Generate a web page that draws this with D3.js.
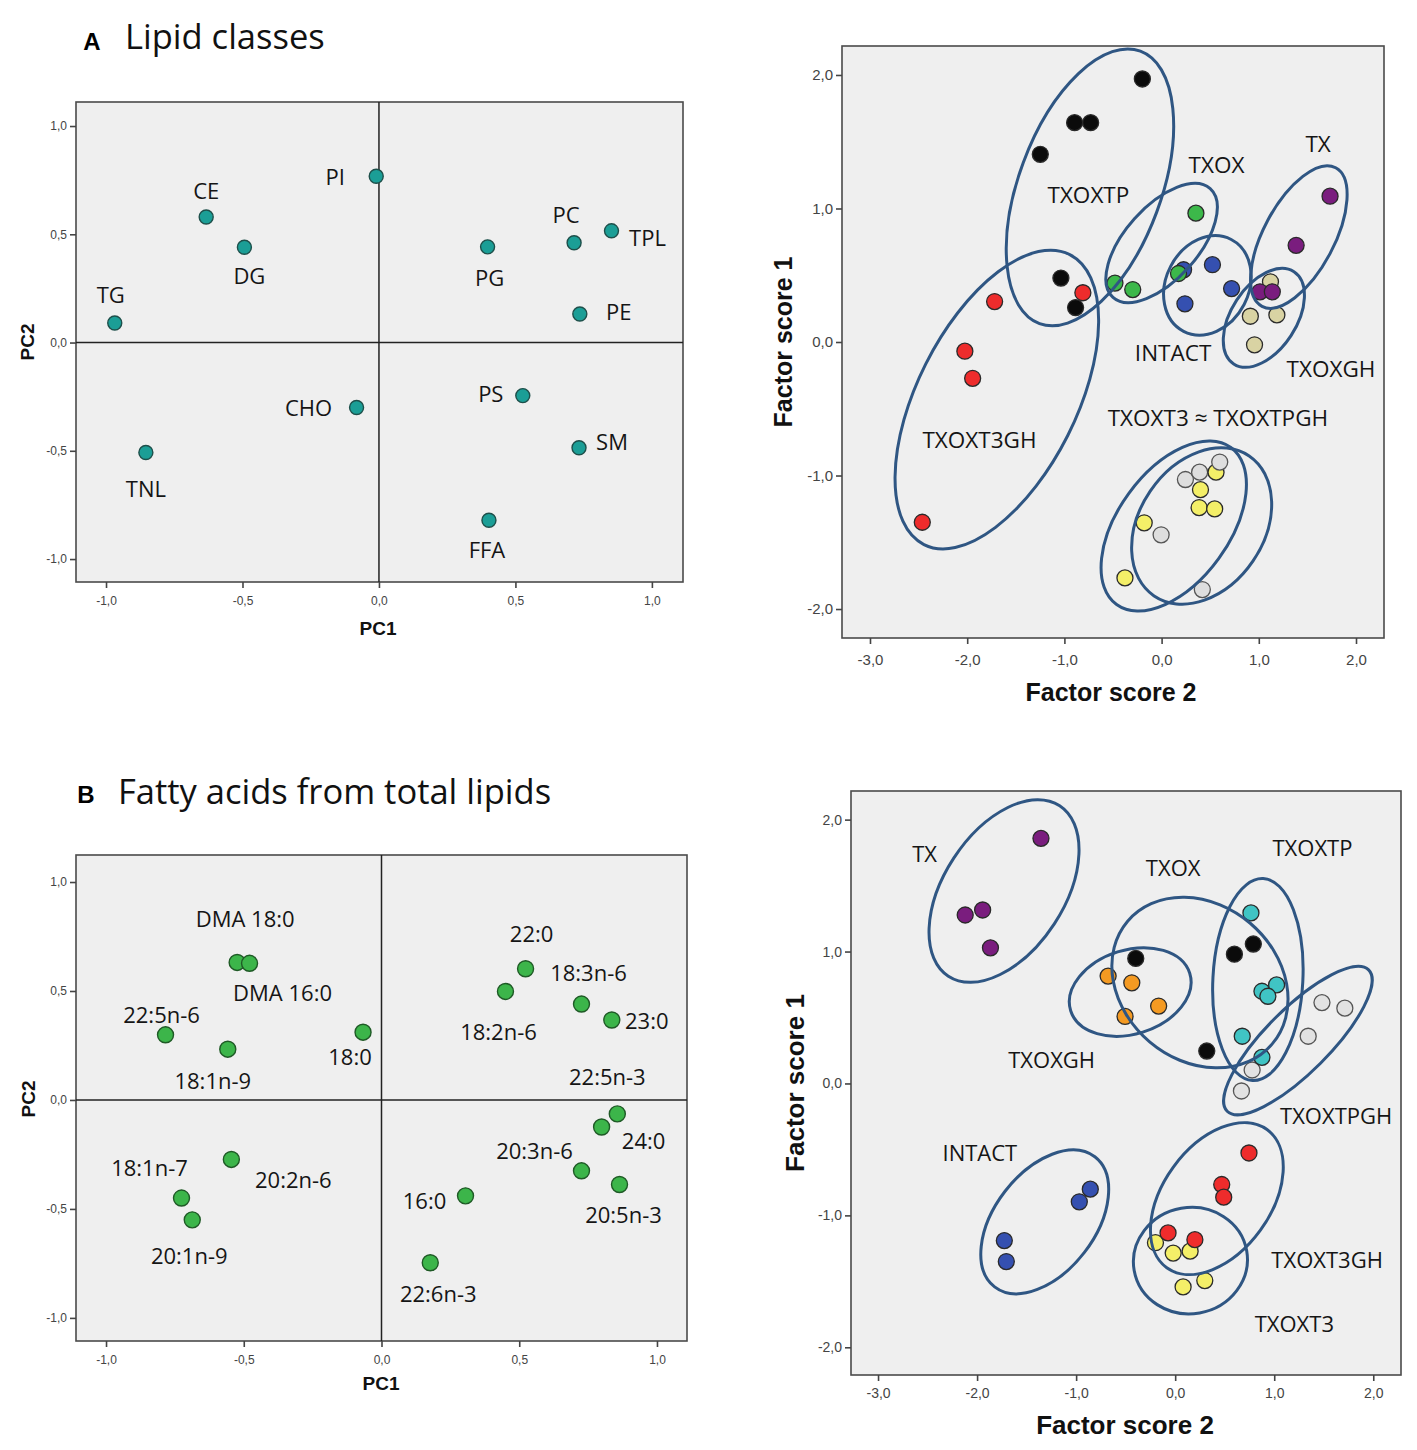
<!DOCTYPE html>
<html>
<head>
<meta charset="utf-8">
<script src="https://cdn.jsdelivr.net/npm/d3@7"></script>
<style>
  body { margin: 0; background: #fff; }
  text { font-family: "Open Sans", sans-serif; }
  .tick text { font-family: "Liberation Sans", Arial, sans-serif; fill: #444; }
  .axis-title { font-family: "Liberation Sans", Arial, sans-serif; font-weight: bold; fill: #111; }
</style>
</head>
<body>
<svg width="1417" height="1450"></svg>
<script>
// ---- A: lipid classes, loadings ----
const lipidNames = ["PI", "CE", "DG", "TG", "PG", "PC", "TPL", "PE", "CHO", "PS", "SM", "TNL", "FFA"];
const lipidPC1 = [-0.01, -0.633, -0.493, -0.968, 0.398, 0.715, 0.852, 0.736, -0.082, 0.527, 0.733, -0.854, 0.403];
const lipidPC2 = [0.768, 0.58, 0.44, 0.09, 0.442, 0.461, 0.516, 0.132, -0.30, -0.245, -0.486, -0.508, -0.821];

// ---- A: factor scores per group [group, factor score 2, factor score 1] ----
const lipidScores = [
  ["INTACT", 0.226, 0.541], ["INTACT", 0.523, 0.579], ["INTACT", 0.72, 0.40], ["INTACT", 0.24, 0.286],
  ["TXOXTP", -0.198, 1.97], ["TXOXTP", -0.895, 1.643], ["TXOXTP", -0.73, 1.643], ["TXOXTP", -1.248, 1.406],
  ["TXOXTP", -1.036, 0.479], ["TXOXTP", -0.885, 0.258],
  ["TXOXT3GH", -0.81, 0.369], ["TXOXT3GH", -1.718, 0.303], ["TXOXT3GH", -2.024, -0.069],
  ["TXOXT3GH", -1.944, -0.272], ["TXOXT3GH", -2.462, -1.35],
  ["TXOX", 0.353, 0.965], ["TXOX", -0.48, 0.441], ["TXOX", -0.297, 0.393], ["TXOX", 0.174, 0.513],
  ["TXOXGH", 1.12, 0.451], ["TXOXGH", 0.913, 0.193], ["TXOXGH", 1.186, 0.203], ["TXOXGH", 0.956, -0.021],
  ["TX", 1.733, 1.092], ["TX", 1.384, 0.724], ["TX", 1.012, 0.376], ["TX", 1.139, 0.376],
  ["TXOXTPGH", 0.245, -1.03], ["TXOXTPGH", 0.391, -0.975], ["TXOXTPGH", -0.005, -1.444], ["TXOXTPGH", 0.419, -1.854],
  ["TXOXT3", 0.56, -0.975], ["TXOXT3", 0.40, -1.106], ["TXOXT3", 0.386, -1.24], ["TXOXT3", 0.546, -1.25],
  ["TXOXT3", -0.179, -1.354], ["TXOXT3", -0.377, -1.767],
  ["TXOXTPGH", 0.598, -0.899]
];
// ellipses: [centre fs2, centre fs1, major tip fs2, major tip fs1, minor/major]
const lipidEllipses = [
  [-0.737, 1.158, -0.218, 2.178, 0.49],
  [-1.695, -0.431, -0.945, 0.655, 0.49],
  [0, 0.741, 0.5, 1.148, 0.5],
  [0.471, 0.424, 0.716, 0.768, 0.8],
  [1.412, 0.786, 1.791, 1.305, 0.45],
  [1.052, 0.181, 1.362, 0.526, 0.59],
  [0.125, -1.378, 0.713, -0.79, 0.572],
  [0.412, -1.378, 0.901, -0.854, 0.735]
];
const lipidGroupLabels = [
  ["TXOXTP", -0.753, 1.102], ["TXOX", 0.565, 1.326], ["TX", 1.61, 1.488], ["INTACT", 0.118, -0.079],
  ["TXOXGH", 1.742, -0.2], ["TXOXT3 \u2248 TXOXTPGH", 0.579, -0.568], ["TXOXT3GH", -1.874, -0.734]
];

// ---- B: fatty acids, loadings ----
const faNames = ["DMA 18:0", "DMA 16:0", "22:5n-6", "18:1n-9", "18:0", "22:0", "18:2n-6", "18:3n-6", "23:0",
  "22:5n-3", "24:0", "20:3n-6", "20:5n-3", "16:0", "22:6n-3", "20:2n-6", "18:1n-7", "20:1n-9"];
const faPC1 = [-0.524, -0.479, -0.784, -0.558, -0.067, 0.523, 0.45, 0.726, 0.836,
  0.856, 0.799, 0.726, 0.864, 0.305, 0.177, -0.545, -0.726, -0.687];
const faPC2 = [0.631, 0.627, 0.299, 0.233, 0.311, 0.602, 0.498, 0.44, 0.367,
  -0.064, -0.124, -0.325, -0.388, -0.44, -0.747, -0.273, -0.45, -0.55];

// ---- B: factor scores ----
const faScores = [
  ["TX", -1.355, 1.858], ["TX", -2.12, 1.277], ["TX", -1.944, 1.315], ["TX", -1.865, 1.028],
  ["TXOX", -0.398, 0.948], ["TXOX", 0.598, 0.98], ["TXOX", 0.789, 1.057], ["TXOX", 0.319, 0.246],
  ["TXOXGH", -0.677, 0.814], ["TXOXGH", -0.438, 0.763], ["TXOXGH", -0.167, 0.587], ["TXOXGH", -0.506, 0.508],
  ["TXOXTPGH", 1.482, 0.613], ["TXOXTPGH", 1.713, 0.571], ["TXOXTPGH", 1.343, 0.358],
  ["TXOXTPGH", 0.777, 0.102], ["TXOXTPGH", 0.669, -0.057],
  ["TXOXTP", 0.765, 1.293], ["TXOXTP", 0.876, 0.699], ["TXOXTP", 1.024, 0.747], ["TXOXTP", 0.936, 0.661],
  ["TXOXTP", 0.677, 0.358], ["TXOXTP", 0.876, 0.198],
  ["TXOXT3", -0.199, -1.207], ["TXOXT3", -0.02, -1.286], ["TXOXT3", 0.151, -1.271],
  ["TXOXT3", 0.08, -1.542], ["TXOXT3", 0.299, -1.494],
  ["TXOXT3GH", 0.745, -0.527], ["TXOXT3GH", 0.47, -0.766], ["TXOXT3GH", 0.49, -0.862],
  ["TXOXT3GH", -0.072, -1.133], ["TXOXT3GH", 0.199, -1.184],
  ["INTACT", -0.857, -0.801], ["INTACT", -0.968, -0.897], ["INTACT", -1.725, -1.191], ["INTACT", -1.705, -1.35]
];
const faEllipses = [
  [-1.728, 1.459, -1.166, 2.105, 0.59],
  [0.25, 0.765, -0.48, 1.23, 0.82],
  [-0.454, 0.693, 0.147, 0.835, 0.674],
  [0.835, 0.788, 0.889, 1.553, 0.445],
  [1.239, 0.325, 1.953, 0.861, 0.32],
  [-1.317, -1.049, -0.811, -0.556, 0.61],
  [0.421, -0.873, 0.927, -0.349, 0.63],
  [0.154, -1.343, 0.722, -1.268, 0.93]
];
const faGroupLabels = [
  ["TX", -2.53, 1.746], ["TXOX", -0.02, 1.644], ["TXOXTP", 1.386, 1.794], ["TXOXGH", -1.247, 0.188],
  ["TXOXTPGH", 1.625, -0.239], ["INTACT", -1.972, -0.52], ["TXOXT3GH", 1.534, -1.334], ["TXOXT3", 1.203, -1.813]
];

const pcTicks = [-1, -0.5, 0, 0.5, 1];
const fsTicksX = [-3, -2, -1, 0, 1, 2];
const fsTicksY = [-2, -1, 0, 1, 2];

// label offsets (px) from the point, layout only
const lipidLabelOffset = {
  "PI": [-41, 0], "CE": [0, -27], "DG": [5, 28], "TG": [-4, -29], "PG": [2, 30], "PC": [-8, -29],
  "TPL": [36, 6], "PE": [39, -3], "CHO": [-48, 0], "PS": [-32, -3], "SM": [33, -7], "TNL": [0, 35], "FFA": [-2, 29]
};
const faLabelOffset = {
  "DMA 18:0": [8, -44], "DMA 16:0": [33, 29], "22:5n-6": [-4, -21], "18:1n-9": [-15, 31], "18:0": [-13, 24],
  "22:0": [6, -36], "18:2n-6": [-7, 40], "18:3n-6": [7, -32], "23:0": [35, 0], "22:5n-3": [-10, -38],
  "24:0": [42, 13], "20:3n-6": [-47, -21], "20:5n-3": [4, 29], "16:0": [-41, 4], "22:6n-3": [8, 30],
  "20:2n-6": [62, 20], "18:1n-7": [-32, -31], "20:1n-9": [-3, 35]
};

const lipidColors = {
  TXOXTP: "#0b0b0b", TXOXT3GH: "#ee2c2c", TXOX: "#3cb84a", INTACT: "#3550b0",
  TX: "#7a1d7e", TXOXGH: "#d9d3a3", TXOXT3: "#f4ef68", TXOXTPGH: "#dedede"
};
const faColors = {
  TX: "#7a1d7e", TXOX: "#0b0b0b", TXOXGH: "#f49a22", TXOXTP: "#40c4c4",
  TXOXTPGH: "#e2e2e2", TXOXT3GH: "#ee2c2c", TXOXT3: "#f4ef68", INTACT: "#3550b0"
};

const svg = d3.select("svg");
const loc = d3.formatLocale({decimal: ",", thousands: ".", grouping: [3], currency: ["", ""], minus: "-"});
const fmt = loc.format(".1f");

function frame(o) {
  const g = svg.append("g");
  const x = d3.scaleLinear().domain(o.xd).range([o.left, o.left + o.w]);
  const y = d3.scaleLinear().domain(o.yd).range([o.top + o.h, o.top]);

  g.append("rect")
    .attr("x", o.left).attr("y", o.top).attr("width", o.w).attr("height", o.h)
    .attr("fill", "#efefef").attr("stroke", "#4a4a4a").attr("stroke-width", 1.6);

  const ax = g.append("g").attr("transform", `translate(0,${o.top + o.h})`)
    .call(d3.axisBottom(x).tickValues(o.xt).tickFormat(fmt).tickSize(6).tickSizeOuter(0).tickPadding(o.pad));
  const ay = g.append("g").attr("transform", `translate(${o.left},0)`)
    .call(d3.axisLeft(y).tickValues(o.yt).tickFormat(fmt).tickSize(6).tickSizeOuter(0).tickPadding(3));
  [ax, ay].forEach(a => {
    a.select(".domain").remove();
    a.selectAll("line").attr("stroke", "#444").attr("stroke-width", 1.6);
    a.selectAll("text").style("font-size", o.tickFont + "px");
  });

  g.append("text").attr("class", "axis-title")
    .attr("x", o.xTitle[0]).attr("y", o.xTitle[1])
    .attr("text-anchor", "middle").attr("dominant-baseline", "central")
    .style("font-size", o.titleFont + "px").text(o.xLabel);
  g.append("text").attr("class", "axis-title")
    .attr("transform", `translate(${o.yTitle[0]},${o.yTitle[1]}) rotate(-90)`)
    .attr("text-anchor", "middle").attr("dominant-baseline", "central")
    .style("font-size", o.titleFont + "px").text(o.yLabel);
  return {g, x, y};
}

function loadings(o, names, pc1, pc2, offsets, fill, stroke, r) {
  const {g, x, y} = frame(o);
  // zero lines
  g.append("line").attr("x1", x(0)).attr("x2", x(0)).attr("y1", o.top).attr("y2", o.top + o.h)
    .attr("stroke", "#222").attr("stroke-width", 1.5);
  g.append("line").attr("x1", o.left).attr("x2", o.left + o.w).attr("y1", y(0)).attr("y2", y(0))
    .attr("stroke", "#222").attr("stroke-width", 1.5);

  const pts = names.map((n, i) => ({name: n, x: pc1[i], y: pc2[i]}));
  g.selectAll("circle.pt").data(pts).enter().append("circle")
    .attr("cx", d => x(d.x)).attr("cy", d => y(d.y)).attr("r", r)
    .attr("fill", fill).attr("stroke", stroke).attr("stroke-width", 1.4);
  g.selectAll("text.lbl").data(pts).enter().append("text")
    .attr("x", d => x(d.x) + offsets[d.name][0])
    .attr("y", d => y(d.y) + offsets[d.name][1])
    .attr("text-anchor", "middle").attr("dominant-baseline", "central")
    .style("font-size", "22px").style("fill", "#151515")
    .text(d => d.name);
}

function scores(o, rows, ellipses, labels, colors, r) {
  const {g, x, y} = frame(o);
  g.selectAll("circle.pt").data(rows).enter().append("circle")
    .attr("cx", d => x(d[1])).attr("cy", d => y(d[2])).attr("r", r)
    .attr("fill", d => colors[d[0]])
    .attr("stroke", d => (d[0] === "TXOXTPGH" ? "#555" : "#2a2a2a"))
    .attr("stroke-width", 1.3);

  g.selectAll("ellipse").data(ellipses).enter().append("ellipse")
    .each(function (e) {
      const cx = x(e[0]), cy = y(e[1]), tx = x(e[2]), ty = y(e[3]);
      const a = Math.hypot(tx - cx, ty - cy);
      const ang = Math.atan2(ty - cy, tx - cx) * 180 / Math.PI;
      d3.select(this).attr("cx", cx).attr("cy", cy).attr("rx", a).attr("ry", a * e[4])
        .attr("transform", `rotate(${ang},${cx},${cy})`);
    })
    .attr("fill", "none").attr("stroke", "#2f5683").attr("stroke-width", 3);

  g.selectAll("text.grp").data(labels).enter().append("text")
    .attr("x", d => x(d[1])).attr("y", d => y(d[2]))
    .attr("text-anchor", "middle").attr("dominant-baseline", "central")
    .style("font-size", o.labelFont + "px").style("fill", "#151515")
    .text(d => d[0]);
}

// panel titles
svg.append("text").attr("x", 92).attr("y", 41).attr("text-anchor", "middle").attr("dominant-baseline", "central")
  .style("font-family", "Liberation Sans, Arial, sans-serif").style("font-weight", "bold").style("font-size", "24px").text("A");
svg.append("text").attr("x", 125).attr("y", 35).attr("dominant-baseline", "central")
  .style("font-size", "34.5px").style("fill", "#111").text("Lipid classes");
svg.append("text").attr("x", 86).attr("y", 794).attr("text-anchor", "middle").attr("dominant-baseline", "central")
  .style("font-family", "Liberation Sans, Arial, sans-serif").style("font-weight", "bold").style("font-size", "24px").text("B");
svg.append("text").attr("x", 118).attr("y", 790).attr("dominant-baseline", "central")
  .style("font-size", "34.5px").style("fill", "#111").text("Fatty acids from total lipids");

loadings({left: 76, top: 102, w: 607, h: 480, xd: [-1.11, 1.114], yd: [-1.106, 1.111],
  xt: pcTicks, yt: pcTicks, pad: 8, tickFont: 12, titleFont: 19,
  xLabel: "PC1", yLabel: "PC2", xTitle: [378, 628], yTitle: [27, 342]},
  lipidNames, lipidPC1, lipidPC2, lipidLabelOffset, "#1b9e96", "#1e4f4a", 7);

scores({left: 842, top: 46, w: 542, h: 592, xd: [-3.288, 2.288], yd: [-2.217, 2.217],
  xt: fsTicksX, yt: fsTicksY, pad: 10, tickFont: 15, titleFont: 25, labelFont: 22.5,
  xLabel: "Factor score 2", yLabel: "Factor score 1", xTitle: [1111, 692], yTitle: [783, 342]},
  lipidScores, lipidEllipses, lipidGroupLabels, lipidColors, 8);

loadings({left: 76, top: 855, w: 611, h: 486, xd: [-1.109, 1.109], yd: [-1.106, 1.124],
  xt: pcTicks, yt: pcTicks, pad: 8, tickFont: 12, titleFont: 19,
  xLabel: "PC1", yLabel: "PC2", xTitle: [381, 1383], yTitle: [28, 1099]},
  faNames, faPC1, faPC2, faLabelOffset, "#3cb54a", "#1f5a26", 8);

scores({left: 851, top: 791, w: 550, h: 584, xd: [-3.273, 2.28], yd: [-2.21, 2.217],
  xt: fsTicksX, yt: fsTicksY, pad: 7, tickFont: 14, titleFont: 26, labelFont: 22,
  xLabel: "Factor score 2", yLabel: "Factor score 1", xTitle: [1125, 1425], yTitle: [795, 1083]},
  faScores, faEllipses, faGroupLabels, faColors, 8);
</script>
</body>
</html>
